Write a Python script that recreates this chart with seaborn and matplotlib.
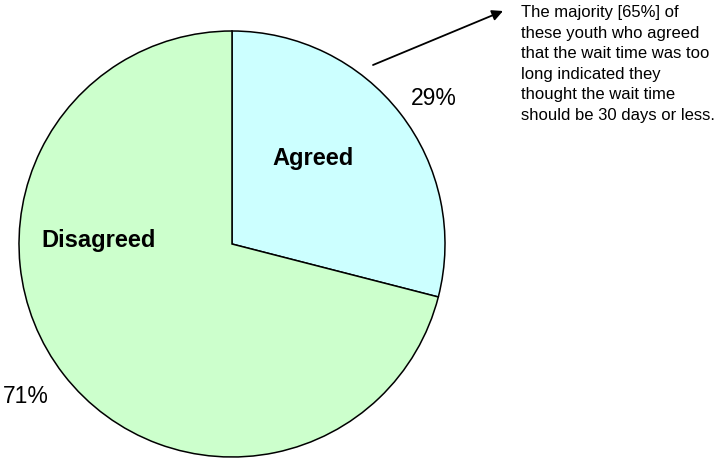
import matplotlib
matplotlib.use("Agg")
import matplotlib.pyplot as plt
import seaborn as sns

sns.set_style("white")
plt.rcParams["font.family"] = ["Liberation Sans", "DejaVu Sans"]
plt.rcParams["text.color"] = "black"

categories = ["Agreed", "Disagreed"]
shares = [29, 71]
pct_labels = ["29%", "71%"]
note = ("The majority [65%] of\nthese youth who agreed\nthat the wait time was too\n"
        "long indicated they\nthought the wait time\nshould be 30 days or less.")

W, H = 716, 459
fig = plt.figure(figsize=(W / 100, H / 100), dpi=100)
ax = fig.add_axes([0, 0, 1, 1])

def py(y):
    # canvas rows counted from the top
    return H - y

cx, cy, r = 232, 244, 213
colors = ["#CCFFFF", "#CCFFCC"]
ax.pie(shares, colors=colors, startangle=90, counterclock=False,
       center=(cx, py(cy)), radius=r,
       wedgeprops=dict(edgecolor="black", linewidth=1.1))
ax.set_xlim(0, W)
ax.set_ylim(0, H)
ax.set_aspect("equal")
ax.axis("off")

# category names inside the wedges
ax.text(313, py(165), categories[0], ha="center", va="baseline",
        fontsize=17, fontweight="bold", color="black")
ax.text(99, py(247), categories[1], ha="center", va="baseline",
        fontsize=17, fontweight="bold", color="black")

# percentages outside the rim
ax.text(434, py(105), pct_labels[0], ha="center", va="baseline",
        fontsize=16.5, color="black")
ax.text(26, py(403), pct_labels[1], ha="center", va="baseline",
        fontsize=16.5, color="black")

# callout arrow and note
ax.annotate("", xy=(503, py(11)), xytext=(373, py(65)),
            arrowprops=dict(arrowstyle="-|>", color="black", lw=1.3,
                            mutation_scale=16, shrinkA=0, shrinkB=0))
ax.text(521, py(5), note, ha="left", va="top", fontsize=12,
        linespacing=1.46, color="black")

fig.savefig("out.png", dpi=100)
